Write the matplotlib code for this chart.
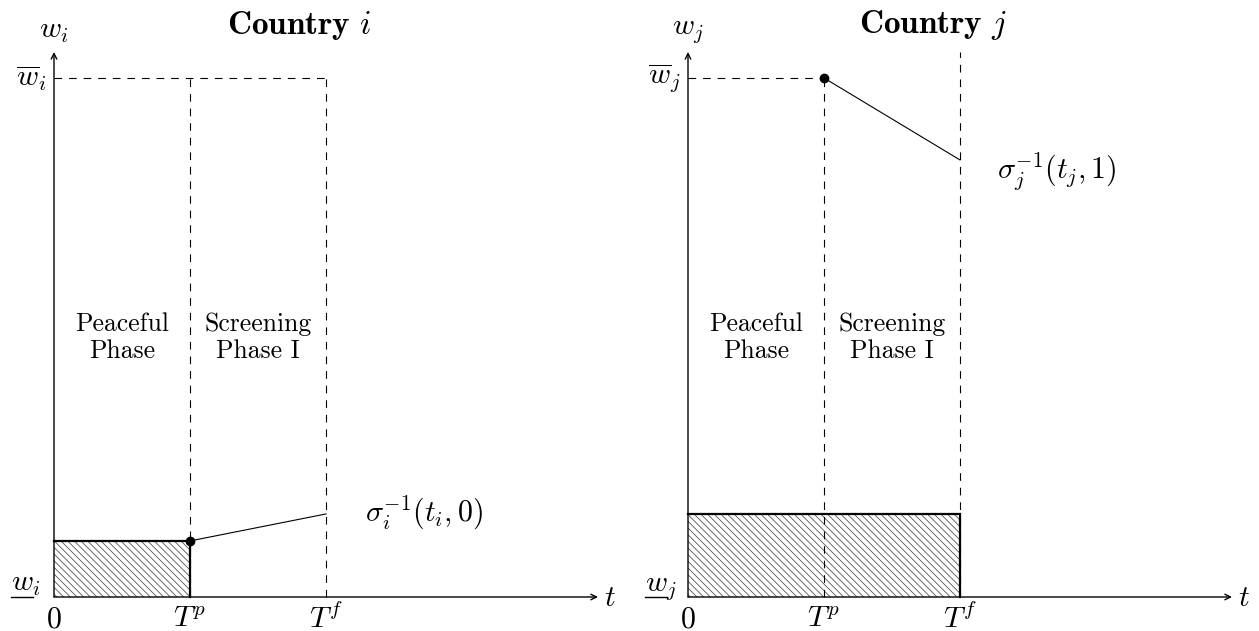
import matplotlib
matplotlib.use("Agg")
import matplotlib.pyplot as plt
from matplotlib.patches import Rectangle
from matplotlib import transforms

plt.rcParams['mathtext.fontset'] = 'cm'
plt.rcParams['hatch.linewidth'] = 0.6
plt.rcParams['lines.scale_dashes'] = False

# ---------------- data ----------------
phase_x = [0.0, 1.0, 2.0]          # 0, T^p, T^f
x_max = 4.0
y_top = 1.05
w_bar = 1.0

rect_i = 0.108                      # hatched height, country i (0 .. T^p)
line_i = [0.108, 0.160]             # sigma_i^{-1}(t_i,0) from T^p to T^f
rect_j = 0.160                      # hatched height, country j (0 .. T^f)
line_j = [1.0, 0.842]               # sigma_j^{-1}(t_j,1) from T^p to T^f

titles = [r'$\mathbf{Country}\ i$', r'$\mathbf{Country}\ j$']
ylabels = [r'$w_i$', r'$w_j$']
bar_labels = [r'$\overline{w}_i$', r'$\overline{w}_j$']
low_labels = [r'$w_i$', r'$w_j$']
xtick_labels = [r'$0$', r'$T^p$', r'$T^f$']
sigma_labels = [r'$\sigma_i^{-1}(t_i,0)$', r'$\sigma_j^{-1}(t_j,1)$']
phase_labels = ['Peaceful\nPhase', 'Screening\nPhase I']

W, H = 1259, 631
fig = plt.figure(figsize=(W / 100, H / 100), dpi=100)

FS = 21.5
DASH = (5.5, 5.0)


def make_axes(x0_px):
    x1_px = x0_px + 544
    y0_px, y1_px = 597, 52
    ax = fig.add_axes([x0_px / W, (H - y0_px) / H, (x1_px - x0_px) / W, (y0_px - y1_px) / H])
    ax.set_xlim(0, x_max)
    ax.set_ylim(0, y_top)
    ax.axis('off')
    return ax


def draw_panel(ax, k):
    Tp, Tf = phase_x[1], phase_x[2]
    if k == 0:
        rh, rw = rect_i, Tp
    else:
        rh, rw = rect_j, Tf
    ax.add_patch(Rectangle((0, 0), rw, rh, facecolor='none', edgecolor='#555555',
                           hatch='\\\\\\\\\\', lw=0, zorder=1))
    ax.plot([0, rw, rw], [rh, rh, 0], color='black', lw=1.6, zorder=3,
            solid_joinstyle='miter', clip_on=False)

    if k == 0:
        ax.plot([0, Tf], [w_bar, w_bar], color='black', lw=0.8, dashes=DASH, clip_on=False)
        ax.plot([Tp, Tp], [0, w_bar], color='black', lw=0.8, dashes=DASH, clip_on=False)
        ax.plot([Tf, Tf], [0, w_bar], color='black', lw=0.8, dashes=DASH, clip_on=False)
        ax.plot([Tp, Tf], line_i, color='black', lw=0.8, zorder=4)
        ax.plot([Tp], [line_i[0]], 'o', color='black', ms=6, zorder=5)
    else:
        ax.plot([0, Tp], [w_bar, w_bar], color='black', lw=0.8, dashes=DASH, clip_on=False)
        ax.plot([Tp, Tp], [0, w_bar], color='black', lw=0.8, dashes=DASH, clip_on=False)
        ax.plot([Tf, Tf], [0, y_top], color='black', lw=0.8, dashes=DASH, clip_on=False)
        ax.plot([Tp, Tf], line_j, color='black', lw=0.8, zorder=4)
        ax.plot([Tp], [line_j[0]], 'o', color='black', ms=6, zorder=5)

    ax.annotate('', xy=(x_max, 0), xytext=(0, 0), annotation_clip=False,
                arrowprops=dict(arrowstyle='->', lw=1.0, color='black',
                                shrinkA=0, shrinkB=0, mutation_scale=10))
    ax.annotate('', xy=(0, y_top), xytext=(0, 0), annotation_clip=False,
                arrowprops=dict(arrowstyle='->', lw=1.0, color='black',
                                shrinkA=0, shrinkB=0, mutation_scale=10))

    ax.annotate(titles[k], xy=(1.8, y_top), xytext=(0, 27), textcoords='offset pixels',
                ha='center', va='center', fontsize=24, annotation_clip=False)
    ax.annotate(ylabels[k], xy=(0, y_top), xytext=(0, 22), textcoords='offset pixels',
                ha='center', va='center', fontsize=FS, annotation_clip=False)
    ax.annotate(bar_labels[k], xy=(0, w_bar), xytext=(-7, 0), textcoords='offset pixels',
                ha='right', va='center', fontsize=FS, annotation_clip=False)
    ax.annotate(low_labels[k], xy=(0, 0), xytext=(-43, 6), textcoords='offset pixels',
                ha='left', va='baseline', fontsize=FS, annotation_clip=False)
    ul = transforms.offset_copy(ax.transData, fig=fig, x=-43, y=0, units='dots')
    ax.plot([0, 22 / 136], [0, 0], color='black', lw=1.0, transform=ul, clip_on=False)

    for xv, lab in zip(phase_x, xtick_labels):
        ax.annotate(lab, xy=(xv, 0), xytext=(0, -7), textcoords='offset pixels',
                    ha='center', va='top', fontsize=FS, annotation_clip=False)
    ax.annotate(r'$t$', xy=(x_max, 0), xytext=(6, 0), textcoords='offset pixels',
                ha='left', va='center', fontsize=FS, annotation_clip=False)

    if k == 0:
        ax.annotate(sigma_labels[k], xy=(Tf, line_i[1]), xytext=(39, -8),
                    textcoords='offset pixels', ha='left', va='baseline',
                    fontsize=FS, annotation_clip=False)
    else:
        ax.annotate(sigma_labels[k], xy=(Tf, line_j[1]), xytext=(37, -19),
                    textcoords='offset pixels', ha='left', va='baseline',
                    fontsize=FS, annotation_clip=False)

    for xc, lab in zip([0.5, 1.5], phase_labels):
        ax.text(xc, 0.5, lab, ha='center', va='center', fontsize=18.5,
                family='cmr10', linespacing=1.2)


ax_i = make_axes(54)
ax_j = make_axes(688)
draw_panel(ax_i, 0)
draw_panel(ax_j, 1)

fig.savefig('out.png', dpi=100)
